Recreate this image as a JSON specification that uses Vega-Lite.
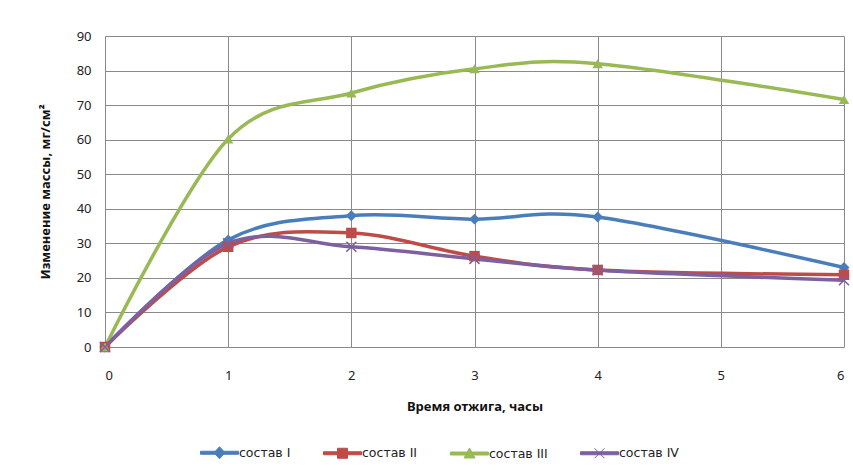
{
  "$schema": "https://vega.github.io/schema/vega-lite/v6.json",
  "width": 739,
  "height": 311,
  "autosize": {"type": "none"},
  "padding": {"left": 105, "top": 36, "right": 9, "bottom": 127},
  "background": "white",
  "config": {
    "font": "Noto Sans",
    "view": {"stroke": null},
    "axis": {
      "domain": false,
      "ticks": false,
      "gridColor": "#8a8a8a",
      "gridWidth": 1,
      "gridOpacity": 1,
      "labelFont": "Noto Sans",
      "labelFontSize": 13,
      "labelColor": "#222222",
      "titleFont": "Noto Sans",
      "titleFontSize": 13,
      "titleFontWeight": "bold",
      "titleColor": "#111111"
    },
    "legend": {
      "labelFont": "DejaVu Sans",
      "labelFontSize": 12.5,
      "labelColor": "#222222"
    }
  },
  "data": {
    "values": [
      {"series": "состав I", "t": 0, "dm": 0},
      {"series": "состав I", "t": 1, "dm": 31},
      {"series": "состав I", "t": 2, "dm": 38},
      {"series": "состав I", "t": 3, "dm": 37},
      {"series": "состав I", "t": 4, "dm": 37.6},
      {"series": "состав I", "t": 6, "dm": 23},
      {"series": "состав II", "t": 0, "dm": 0},
      {"series": "состав II", "t": 1, "dm": 29},
      {"series": "состав II", "t": 2, "dm": 33},
      {"series": "состав II", "t": 3, "dm": 26.3},
      {"series": "состав II", "t": 4, "dm": 22.3},
      {"series": "состав II", "t": 6, "dm": 20.9},
      {"series": "состав III", "t": 0, "dm": 0},
      {"series": "состав III", "t": 1, "dm": 60.2},
      {"series": "состав III", "t": 2, "dm": 73.5},
      {"series": "состав III", "t": 3, "dm": 80.5},
      {"series": "состав III", "t": 4, "dm": 82},
      {"series": "состав III", "t": 6, "dm": 71.6},
      {"series": "состав IV", "t": 0, "dm": 0},
      {"series": "состав IV", "t": 1, "dm": 30},
      {"series": "состав IV", "t": 2, "dm": 29},
      {"series": "состав IV", "t": 3, "dm": 25.5},
      {"series": "состав IV", "t": 4, "dm": 22.2},
      {"series": "состав IV", "t": 6, "dm": 19.3}
    ]
  },
  "encoding": {
    "x": {
      "field": "t",
      "type": "quantitative",
      "scale": {"domain": [0, 6], "nice": false},
      "axis": {
        "values": [0, 1, 2, 3, 4, 5, 6],
        "format": "d",
        "title": "Время отжига, часы",
        "labelPadding": 22,
        "titlePadding": 18
      }
    },
    "y": {
      "field": "dm",
      "type": "quantitative",
      "scale": {"domain": [0, 90], "nice": false},
      "axis": {
        "values": [0, 10, 20, 30, 40, 50, 60, 70, 80, 90],
        "title": "Изменение массы, мг/см²",
        "labelPadding": 14,
        "titlePadding": 24
      }
    }
  },
  "layer": [
    {
      "mark": {"type": "line", "interpolate": "cardinal", "strokeWidth": 3.5},
      "encoding": {
        "color": {
          "field": "series",
          "type": "nominal",
          "scale": {
            "domain": ["состав I", "состав II", "состав III", "состав IV"],
            "range": ["#4a7ebb", "#be4b48", "#98b954", "#7d60a0"]
          },
          "legend": {
            "orient": "none",
            "legendX": 104,
            "legendY": 406,
            "direction": "horizontal",
            "title": null,
            "padding": 0,
            "symbolSize": 400,
            "symbolStrokeWidth": 1,
            "labelOffset": 9,
            "columnPadding": 30,
            "labelFont": "DejaVu Sans",
            "labelFontSize": 12.5,
            "labelColor": "#222222",
            "encode": {
              "symbols": {
                "update": {
                  "shape": {
                    "signal": "datum.value === 'состав I' ? 'M-1.9,-0.15H1.9V0.15H-1.9Z M0,-0.6L0.55,0L0,0.6L-0.55,0Z' : datum.value === 'состав II' ? 'M-1.9,-0.15H1.9V0.15H-1.9Z M-0.5,-0.5H0.5V0.5H-0.5Z' : datum.value === 'состав III' ? 'M-1.9,-0.15H1.9V0.15H-1.9Z M0,-0.55L0.55,0.45H-0.55Z' : 'M-1.9,-0.15H1.9V0.15H-1.9Z M-0.5,-0.5L0.5,0.5M0.5,-0.5L-0.5,0.5'"
                  },
                  "fill": {"scale": "color", "field": "value"},
                  "fillOpacity": {"value": 1},
                  "opacity": {"value": 1}
                }
              }
            }
          }
        }
      }
    },
    {
      "transform": [{"filter": "datum.series === 'состав I'"}],
      "mark": {"type": "point", "shape": "diamond", "filled": true, "size": 120, "color": "#4a7ebb", "opacity": 1}
    },
    {
      "transform": [{"filter": "datum.series === 'состав II'"}],
      "mark": {"type": "point", "shape": "square", "filled": true, "size": 110, "color": "#be4b48", "opacity": 1}
    },
    {
      "transform": [{"filter": "datum.series === 'состав III'"}],
      "mark": {"type": "point", "shape": "triangle-up", "filled": true, "size": 110, "color": "#98b954", "opacity": 1}
    },
    {
      "transform": [{"filter": "datum.series === 'состав IV'"}],
      "mark": {"type": "point", "shape": "M-1,-1L1,1M1,-1L-1,1", "filled": false, "size": 100, "strokeWidth": 1.6, "color": "#7d60a0", "opacity": 1}
    }
  ]
}
